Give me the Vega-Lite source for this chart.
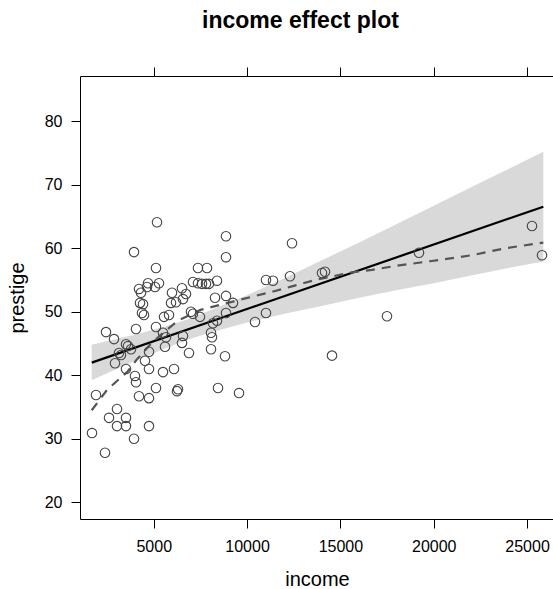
{
  "$schema": "https://vega.github.io/schema/vega-lite/v6.json",
  "autosize": "none",
  "width": 473,
  "height": 443,
  "padding": {"left": 80, "top": 76, "right": 0, "bottom": 70},
  "background": "white",
  "title": {"text": "income effect plot", "font": "Liberation Sans", "fontSize": 23, "fontWeight": "bold", "color": "black", "anchor": "middle", "frame": "group", "dx": -16, "baseline": "alphabetic", "offset": 16},
  "config": {
    "view": {"stroke": null},
    "axis": {"grid": false, "domainColor": "black", "domainWidth": 1, "tickColor": "black", "tickWidth": 1, "tickSize": 9, "labelColor": "black", "labelFont": "Liberation Sans", "labelFontSize": 16, "titleFont": "Liberation Sans", "titleFontSize": 20, "titleFontWeight": "normal", "titleColor": "black"}
  },
  "datasets": {
    "points": [
      {"income": 5175, "prestige": 64.1}, {"income": 3943, "prestige": 59.4}, {"income": 8871, "prestige": 61.9}, {"income": 8871, "prestige": 58.6},
      {"income": 5121, "prestige": 56.9}, {"income": 7371, "prestige": 56.9}, {"income": 7853, "prestige": 56.9}, {"income": 12407, "prestige": 60.8},
      {"income": 4211, "prestige": 53.6}, {"income": 4318, "prestige": 53.0}, {"income": 4639, "prestige": 53.9}, {"income": 4693, "prestige": 54.5},
      {"income": 5068, "prestige": 53.9}, {"income": 5282, "prestige": 54.5}, {"income": 5978, "prestige": 53.0}, {"income": 6514, "prestige": 53.7},
      {"income": 6728, "prestige": 52.8}, {"income": 7103, "prestige": 54.7}, {"income": 7371, "prestige": 54.5}, {"income": 7586, "prestige": 54.4},
      {"income": 7800, "prestige": 54.4}, {"income": 7961, "prestige": 54.4}, {"income": 8389, "prestige": 54.9}, {"income": 11014, "prestige": 55.0},
      {"income": 11389, "prestige": 54.9}, {"income": 12300, "prestige": 55.6}, {"income": 14014, "prestige": 56.1}, {"income": 14175, "prestige": 56.3},
      {"income": 19210, "prestige": 59.3}, {"income": 25264, "prestige": 63.5}, {"income": 25800, "prestige": 58.9},
      {"income": 8282, "prestige": 52.2}, {"income": 8871, "prestige": 52.5}, {"income": 9246, "prestige": 51.4}, {"income": 4264, "prestige": 51.4},
      {"income": 4425, "prestige": 51.2}, {"income": 5925, "prestige": 51.4}, {"income": 6193, "prestige": 51.5}, {"income": 6568, "prestige": 52.0},
      {"income": 4371, "prestige": 49.8}, {"income": 4478, "prestige": 49.5}, {"income": 5550, "prestige": 49.2}, {"income": 5818, "prestige": 49.5},
      {"income": 6996, "prestige": 50.0}, {"income": 7103, "prestige": 49.7}, {"income": 7478, "prestige": 49.2}, {"income": 8175, "prestige": 48.2},
      {"income": 8389, "prestige": 48.6}, {"income": 8871, "prestige": 49.8}, {"income": 11014, "prestige": 49.8}, {"income": 10425, "prestige": 48.4},
      {"income": 2443, "prestige": 46.8}, {"income": 2871, "prestige": 45.7}, {"income": 4050, "prestige": 47.3}, {"income": 5121, "prestige": 47.6},
      {"income": 5496, "prestige": 46.7}, {"income": 5657, "prestige": 46.0}, {"income": 6568, "prestige": 46.2}, {"income": 8068, "prestige": 46.7},
      {"income": 8121, "prestige": 46.0}, {"income": 3514, "prestige": 44.9}, {"income": 3621, "prestige": 44.6}, {"income": 3782, "prestige": 44.1},
      {"income": 5603, "prestige": 44.5}, {"income": 6514, "prestige": 45.1},
      {"income": 8068, "prestige": 44.1}, {"income": 8818, "prestige": 43.0}, {"income": 6889, "prestige": 43.5}, {"income": 4746, "prestige": 43.7},
      {"income": 3139, "prestige": 43.5}, {"income": 3246, "prestige": 43.2}, {"income": 2925, "prestige": 41.9}, {"income": 4532, "prestige": 42.3},
      {"income": 4746, "prestige": 41.0}, {"income": 3514, "prestige": 41.0}, {"income": 5496, "prestige": 40.5}, {"income": 6086, "prestige": 41.0},
      {"income": 3996, "prestige": 39.9}, {"income": 4050, "prestige": 38.9},
      {"income": 5121, "prestige": 38.0}, {"income": 6246, "prestige": 37.5}, {"income": 6300, "prestige": 37.8}, {"income": 8443, "prestige": 38.0},
      {"income": 9568, "prestige": 37.2}, {"income": 1907, "prestige": 36.9}, {"income": 4211, "prestige": 36.7}, {"income": 4746, "prestige": 36.4},
      {"income": 3032, "prestige": 34.7}, {"income": 2604, "prestige": 33.3}, {"income": 3514, "prestige": 33.3}, {"income": 3032, "prestige": 32.0},
      {"income": 3514, "prestige": 32.0}, {"income": 4746, "prestige": 32.0}, {"income": 1693, "prestige": 30.9}, {"income": 3943, "prestige": 30.0},
      {"income": 2389, "prestige": 27.8},
      {"income": 17496, "prestige": 49.3}, {"income": 14550, "prestige": 43.1}
    ],
    "fit": [
      {"income": 1677, "prestige": 42.0},
      {"income": 25870, "prestige": 66.55}
    ],
    "band": [
      {"income": 1677, "lo": 39.2, "hi": 44.8},
      {"income": 2800, "lo": 40.7, "hi": 45.6},
      {"income": 4000, "lo": 42.3, "hi": 46.4},
      {"income": 5500, "lo": 44.1, "hi": 47.6},
      {"income": 6800, "lo": 45.6, "hi": 48.8},
      {"income": 8000, "lo": 46.7, "hi": 50.2},
      {"income": 10000, "lo": 48.3, "hi": 52.6},
      {"income": 12000, "lo": 49.7, "hi": 55.3},
      {"income": 14000, "lo": 50.9, "hi": 58.1},
      {"income": 16000, "lo": 52.2, "hi": 60.9},
      {"income": 18000, "lo": 53.4, "hi": 63.8},
      {"income": 20000, "lo": 54.5, "hi": 66.7},
      {"income": 22000, "lo": 55.7, "hi": 69.6},
      {"income": 24000, "lo": 56.9, "hi": 72.5},
      {"income": 25870, "lo": 57.9, "hi": 75.2}
    ],
    "smooth": [
      {"income": 1677, "prestige": 34.5},
      {"income": 2500, "prestige": 37.7},
      {"income": 3600, "prestige": 40.6},
      {"income": 4070, "prestige": 42.4},
      {"income": 4800, "prestige": 44.8},
      {"income": 5500, "prestige": 46.7},
      {"income": 6300, "prestige": 48.6},
      {"income": 7500, "prestige": 50.3},
      {"income": 10300, "prestige": 52.4},
      {"income": 11400, "prestige": 53.2},
      {"income": 12400, "prestige": 54.0},
      {"income": 13640, "prestige": 55.0},
      {"income": 15600, "prestige": 56.2},
      {"income": 16700, "prestige": 56.6},
      {"income": 17900, "prestige": 57.2},
      {"income": 19890, "prestige": 58.0},
      {"income": 22030, "prestige": 58.9},
      {"income": 23820, "prestige": 60.0},
      {"income": 25430, "prestige": 60.7},
      {"income": 25870, "prestige": 60.9}
    ]
  },
  "resolve": {"axis": {"x": "independent"}},
  "layer": [
    {
      "data": {"name": "band"},
      "mark": {"type": "area", "color": "#d9d9d9", "opacity": 1},
      "encoding": {
        "x": {"field": "income", "type": "quantitative", "scale": {"domain": [1050, 26389], "nice": false, "zero": false}, "axis": {"orient": "top", "values": [5000, 10000, 15000, 20000, 25000], "labels": false, "title": null}},
        "y": {"field": "lo", "type": "quantitative", "scale": {"domain": [17.37, 87.13], "nice": false, "zero": false}, "axis": {"values": [20, 30, 40, 50, 60, 70, 80], "title": "prestige", "labelPadding": 9, "titleX": -57, "titleY": 221.5, "titleAngle": -90, "titleAlign": "center", "titleBaseline": "alphabetic"}},
        "y2": {"field": "hi"}
      }
    },
    {
      "data": {"name": "fit"},
      "mark": {"type": "line", "color": "black", "strokeWidth": 2.2},
      "encoding": {
        "x": {"field": "income", "type": "quantitative", "axis": null},
        "y": {"field": "prestige", "type": "quantitative", "axis": {"values": [20, 30, 40, 50, 60, 70, 80], "title": "prestige", "labelPadding": 9, "titleX": -57, "titleY": 221.5, "titleAngle": -90, "titleAlign": "center", "titleBaseline": "alphabetic"}}
      }
    },
    {
      "data": {"name": "smooth"},
      "mark": {"type": "line", "color": "#555555", "strokeWidth": 2.2, "strokeDash": [9, 7]},
      "encoding": {
        "x": {"field": "income", "type": "quantitative", "axis": null},
        "y": {"field": "prestige", "type": "quantitative", "axis": {"values": [20, 30, 40, 50, 60, 70, 80], "title": "prestige", "labelPadding": 9, "titleX": -57, "titleY": 221.5, "titleAngle": -90, "titleAlign": "center", "titleBaseline": "alphabetic"}}
      }
    },
    {
      "data": {"name": "points"},
      "mark": {"type": "point", "shape": "circle", "filled": false, "stroke": "#444444", "strokeWidth": 1.1, "size": 90, "opacity": 1},
      "encoding": {
        "x": {"field": "income", "type": "quantitative", "axis": {"orient": "bottom", "values": [5000, 10000, 15000, 20000, 25000], "format": "d", "title": "income", "labelPadding": 10, "titleX": 237, "titleY": 66, "titleAlign": "center", "titleBaseline": "alphabetic"}},
        "y": {"field": "prestige", "type": "quantitative", "axis": {"values": [20, 30, 40, 50, 60, 70, 80], "title": "prestige", "labelPadding": 9, "titleX": -57, "titleY": 221.5, "titleAngle": -90, "titleAlign": "center", "titleBaseline": "alphabetic"}}
      }
    }
  ]
}
